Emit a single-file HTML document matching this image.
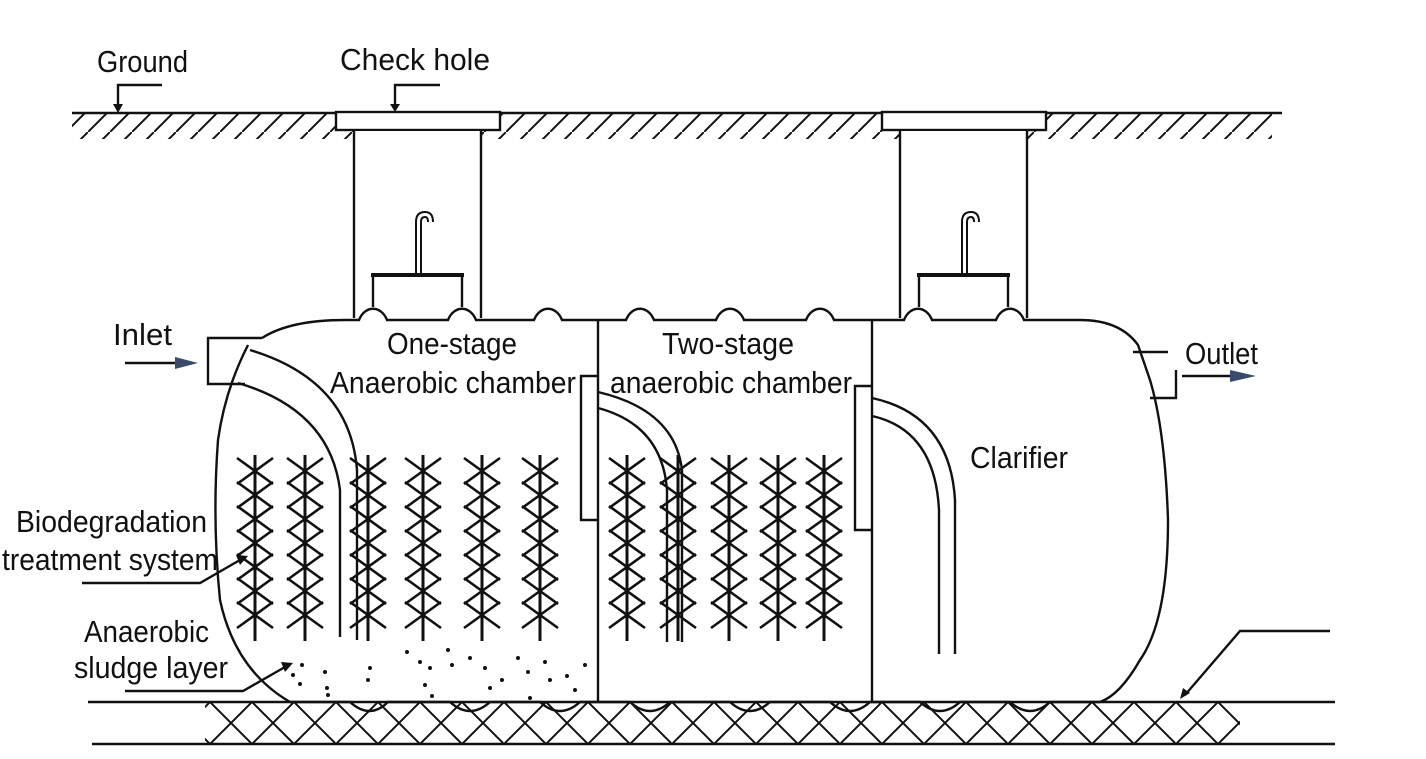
<!DOCTYPE html>
<html><head><style>
html,body{margin:0;padding:0;background:#fff;}
svg{display:block;}
text{font-family:"Liberation Sans",sans-serif;font-size:31px;fill:#111;}
</style></head><body>
<svg width="1426" height="759" viewBox="0 0 1426 759" xmlns="http://www.w3.org/2000/svg">
<defs>
<pattern id="hatch" x="0" y="0" width="22" height="22" patternUnits="userSpaceOnUse">
<path d="M22 0 L0 22" stroke="#111" stroke-width="2"/>
</pattern>
<pattern id="xx" x="0" y="702" width="42" height="42" patternUnits="userSpaceOnUse">
<path d="M0 0 L42 42 M42 0 L0 42" stroke="#111" stroke-width="2"/>
</pattern>
<g id="col" stroke="#111" stroke-width="2.6" fill="none">
<path d="M-18 0 L18 26 M18 0 L-18 26"/>
<path d="M-18 24 L18 50 M18 24 L-18 50"/>
<path d="M-18 48 L18 74 M18 48 L-18 74"/>
<path d="M-18 72 L18 98 M18 72 L-18 98"/>
<path d="M-18 96 L18 122 M18 96 L-18 122"/>
<path d="M-18 120 L18 146 M18 120 L-18 146"/>
<path d="M-18 144 L18 170 M18 144 L-18 170"/>
<line x1="0" y1="-3" x2="0" y2="183" stroke-width="3"/>
</g>
</defs>
<g stroke="#111" fill="none" stroke-width="2.4">
<line x1="72" y1="113" x2="1282" y2="113"/>
<rect x="72" y="114" width="1200" height="25" fill="url(#hatch)" stroke="none"/>
<rect x="336" y="112" width="164" height="18" fill="#fff"/>
<rect x="882" y="112" width="164" height="18" fill="#fff"/>
<rect x="354" y="131" width="127" height="60" fill="#fff" stroke="none"/>
<rect x="900" y="131" width="127" height="60" fill="#fff" stroke="none"/>
<line x1="354" y1="130" x2="354" y2="318"/><line x1="481" y1="130" x2="481" y2="318"/>
<line x1="900" y1="130" x2="900" y2="318"/><line x1="1027" y1="130" x2="1027" y2="318"/>
<path d="M373 307 V275 H462 V307"/><line x1="371" y1="275" x2="464" y2="275" stroke-width="4"/>
<path d="M919 307 V275 H1008 V307"/><line x1="917" y1="275" x2="1010" y2="275" stroke-width="4"/>
<path d="M416 275 V222 Q416 212 425 212 Q433 212 433 222" stroke-width="2"/>
<path d="M421 275 V222 Q421 217 425 217 Q428 217 428 222" stroke-width="2"/>
<path d="M962 275 V222 Q962 212 971 212 Q979 212 979 222" stroke-width="2"/>
<path d="M967 275 V222 Q967 217 971 217 Q974 217 974 222" stroke-width="2"/>
<path d="M262 338 Q290 320 345 320 H359 C365 305 381 305 387 320 H448 C454 305 470 305 476 320 H534 C540 305 556 305 562 320 H626 C632 305 648 305 654 320 H716 C722 305 738 305 744 320 H806 C812 305 828 305 834 320 H904 C910 305 926 305 932 320 H996 C1002 305 1018 305 1024 320 H1080 Q1120 320 1138 345 L1150 380 Q1165 430 1168 520 Q1168 620 1140 660 Q1120 695 1100 702"/>
<path d="M248 345 Q225 390 218 440 Q212 520 220 600 Q235 670 290 702 H350 Q370 720 388 702 H450 Q470 720 490 702 H540 Q560 720 580 702 H630 Q650 720 670 702 H730 Q750 720 770 702 H830 Q850 720 870 702 H920 Q940 720 960 702 H1010 Q1030 720 1050 702 H1100"/>
<line x1="598" y1="320" x2="598" y2="702"/>
<line x1="872" y1="320" x2="872" y2="702"/>
<path d="M262 338 H208 V384 H245"/>
<path d="M1133 352 H1168 M1176 370 V398 H1150"/>
<path d="M598 376 H581 V520 H598"/>
<path d="M872 386 H855 V530 H872"/>
<path d="M250 350 Q350 380 357 470 V640"/>
<path d="M238 383 Q330 410 340 490 V637"/>
<path d="M598 392 Q675 410 682 470 V642"/>
<path d="M598 408 Q662 425 667 490 V642"/>
<path d="M872 398 Q950 415 955 500 V654"/>
<path d="M872 416 Q935 430 939 510 V654"/>
<line x1="88" y1="702" x2="1335" y2="702"/>
<line x1="92" y1="744" x2="1335" y2="744"/>
<rect x="205" y="703" width="1035" height="40" fill="url(#xx)" stroke="none"/>
<path d="M118 108 V85 H162"/><path d="M395 108 V85 H440"/>
<path d="M82 583 H200 L240 560"/>
<path d="M125 691 H243 L285 667"/>
<path d="M1330 631 H1240 L1185 695"/>
<line x1="125" y1="363" x2="180" y2="363"/>
<line x1="1182" y1="376" x2="1235" y2="376"/>
</g>
<g fill="#111">
<path d="M113 104 L123 104 L118 113 Z"/><path d="M390 104 L400 104 L395 112 Z"/>
<path d="M236 555 L248 556 L240 565 Z"/><path d="M281 662 L293 663 L285 672 Z"/>
<path d="M1180 699 L1183 688 L1190 693 Z"/>
<path d="M175 357 L198 363 L175 369 Z" fill="#3a4a6a"/>
<path d="M1230 370 L1256 376 L1230 382 Z" fill="#3a4a6a"/>
<g>
<circle cx="293" cy="675" r="2"/><circle cx="302" cy="665" r="2"/><circle cx="300" cy="684" r="2"/><circle cx="325" cy="672" r="2"/><circle cx="327" cy="688" r="2"/><circle cx="328" cy="695" r="2"/><circle cx="370" cy="668" r="2"/><circle cx="368" cy="680" r="2"/><circle cx="407" cy="652" r="2"/><circle cx="420" cy="662" r="2"/><circle cx="430" cy="668" r="2"/><circle cx="425" cy="685" r="2"/><circle cx="432" cy="696" r="2"/><circle cx="448" cy="650" r="2"/><circle cx="452" cy="665" r="2"/><circle cx="470" cy="658" r="2"/><circle cx="485" cy="668" r="2"/><circle cx="490" cy="688" r="2"/><circle cx="502" cy="680" r="2"/><circle cx="518" cy="658" r="2"/><circle cx="528" cy="672" r="2"/><circle cx="530" cy="698" r="2"/><circle cx="545" cy="662" r="2"/><circle cx="550" cy="680" r="2"/><circle cx="567" cy="676" r="2"/><circle cx="575" cy="690" r="2"/><circle cx="585" cy="665" r="2"/>
</g>
</g>
<use href="#col" x="255" y="458"/><use href="#col" x="305" y="458"/><use href="#col" x="368" y="458"/>
<use href="#col" x="423" y="458"/><use href="#col" x="482" y="458"/><use href="#col" x="540" y="458"/>
<use href="#col" x="627" y="458"/><use href="#col" x="678" y="458"/><use href="#col" x="729" y="458"/>
<use href="#col" x="778" y="458"/><use href="#col" x="824" y="458"/>
<text x="97" y="72" textLength="91" lengthAdjust="spacingAndGlyphs">Ground</text>
<text x="340" y="70" textLength="150" lengthAdjust="spacingAndGlyphs">Check hole</text>
<text x="113" y="345" textLength="59" lengthAdjust="spacingAndGlyphs">Inlet</text>
<text x="1185" y="364" textLength="73" lengthAdjust="spacingAndGlyphs">Outlet</text>
<text x="387" y="354" textLength="130" lengthAdjust="spacingAndGlyphs">One-stage</text>
<text x="330" y="393" textLength="246" lengthAdjust="spacingAndGlyphs">Anaerobic chamber</text>
<text x="662" y="354" textLength="132" lengthAdjust="spacingAndGlyphs">Two-stage</text>
<text x="610" y="393" textLength="242" lengthAdjust="spacingAndGlyphs">anaerobic chamber</text>
<text x="970" y="468" textLength="98" lengthAdjust="spacingAndGlyphs">Clarifier</text>
<text x="16" y="532" textLength="191" lengthAdjust="spacingAndGlyphs">Biodegradation</text>
<text x="2" y="570" textLength="216" lengthAdjust="spacingAndGlyphs">treatment system</text>
<text x="84" y="642" textLength="125" lengthAdjust="spacingAndGlyphs">Anaerobic</text>
<text x="74" y="678" textLength="154" lengthAdjust="spacingAndGlyphs">sludge layer</text>
</svg>
</body></html>
